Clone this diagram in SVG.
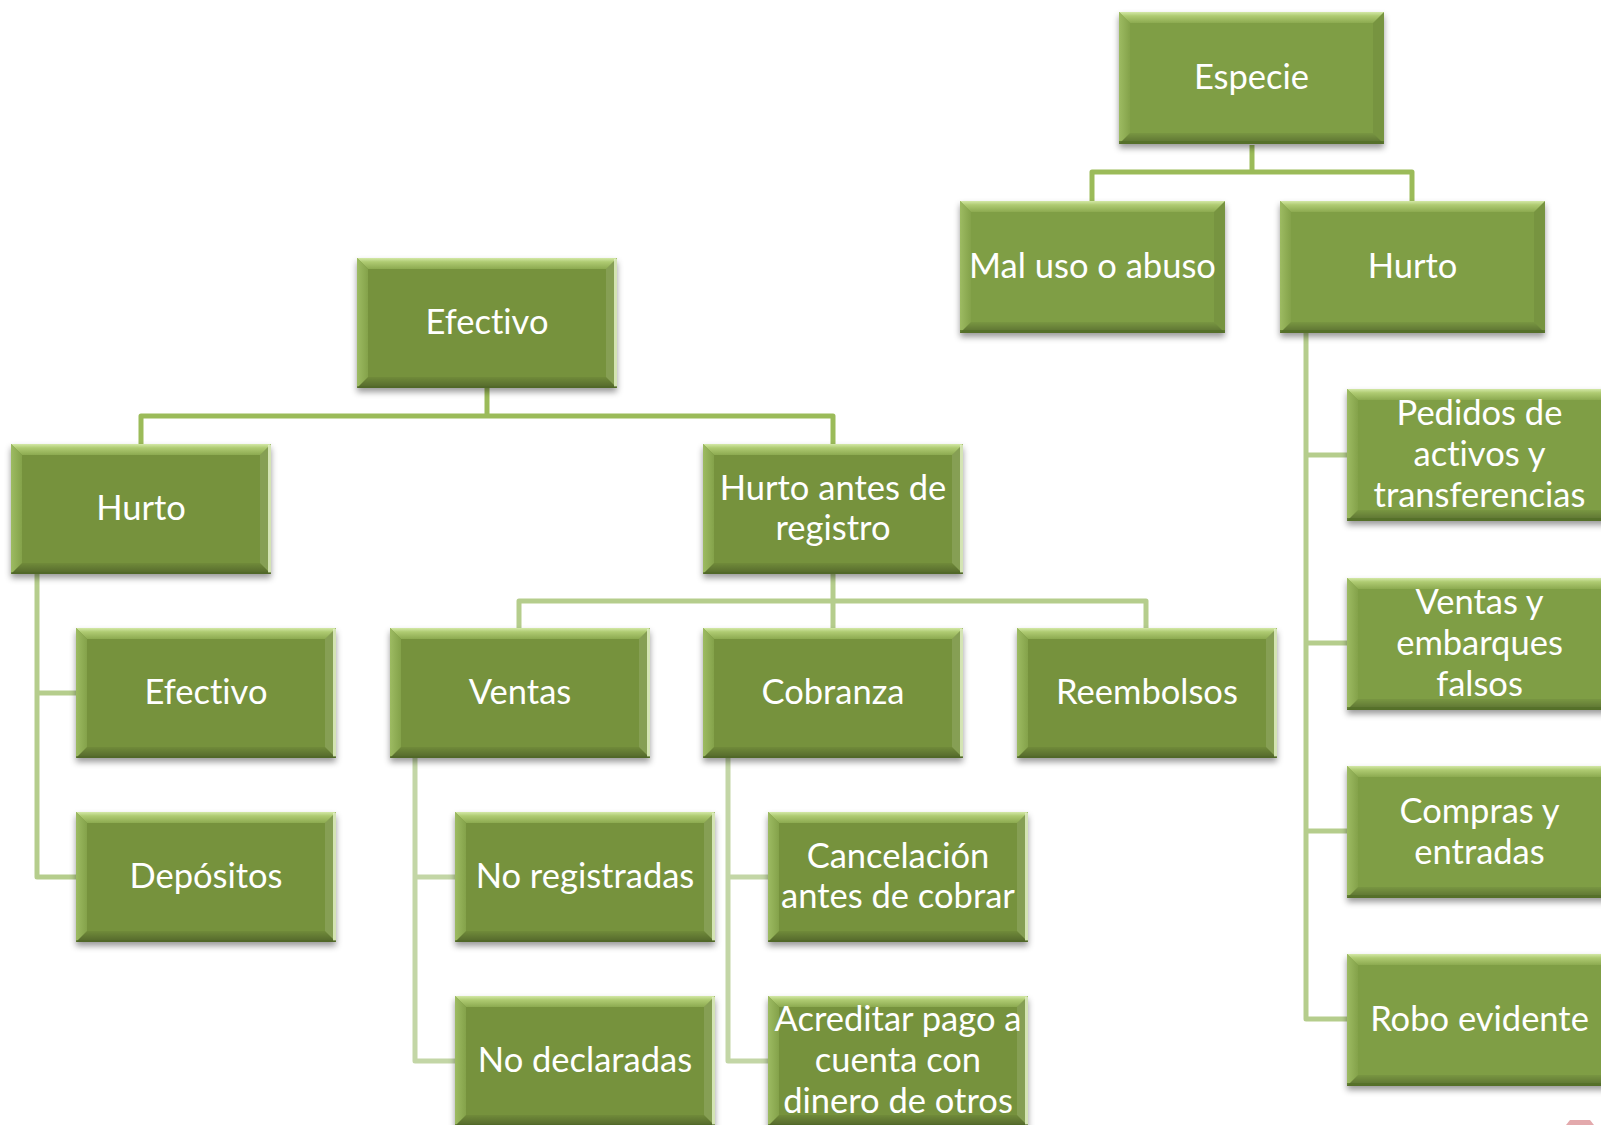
<svg xmlns="http://www.w3.org/2000/svg" xmlns:xlink="http://www.w3.org/1999/xlink" width="1601" height="1125" viewBox="0 0 1601 1125">
  <style>
    .lbl { font-family: Lato, "Open Sans", "Liberation Sans", sans-serif; font-size: 34.5px; fill: #FFFFFF; text-anchor: middle; font-variant-ligatures: none; }
    .c1 { fill: none; stroke: #9BBB59; stroke-width: 5; stroke-linejoin: round; }
    .c2 { fill: none; stroke: #B5CD8C; stroke-width: 5; stroke-linejoin: round; }
    .c3 { fill: none; stroke: #C3D6A6; stroke-width: 5; stroke-linejoin: round; }
  </style>
  <defs>
    <filter id="sh" x="-10%" y="-10%" width="120%" height="130%">
      <feDropShadow dx="0" dy="4" stdDeviation="3" flood-color="#000000" flood-opacity="0.4"/>
    </filter>
    <linearGradient id="gTop" x1="0" y1="0" x2="0" y2="1">
      <stop offset="0" stop-color="#D3E8A6"/>
      <stop offset="0.35" stop-color="#AFCB72"/>
      <stop offset="1" stop-color="#8CAA50"/>
    </linearGradient>
    <linearGradient id="gLeft" x1="0" y1="0" x2="1" y2="0">
      <stop offset="0" stop-color="#9DBB62"/>
      <stop offset="1" stop-color="#84A24A"/>
    </linearGradient>
    <linearGradient id="gBot" x1="0" y1="0" x2="0" y2="1">
      <stop offset="0" stop-color="#000000" stop-opacity="0.05"/>
      <stop offset="1" stop-color="#000000" stop-opacity="0.3"/>
    </linearGradient>

    <!-- bevelled box, 260 x 130 -->
    <g id="boxL">
      <rect width="260" height="130" fill="#76923C" filter="url(#sh)"/>
      <polygon points="0,0 260,0 249,11 11,11" fill="url(#gTop)"/>
      <polygon points="0,0 11,11 11,119 0,130" fill="url(#gLeft)"/>
      <polygon points="260,0 260,130 249,119 249,11" fill="#FFFFFF" fill-opacity="0.12"/>
      <polygon points="0,130 11,119 249,119 260,130" fill="url(#gBot)"/>
      <rect x="257" y="1" width="3" height="128" fill="#E2F0C6" opacity="0.85"/>
      <rect x="0" y="128" width="260" height="2" fill="#4F6726" opacity="0.6"/>
    </g>

    <!-- bevelled box, 265 x 132 -->
    <g id="boxR">
      <rect width="265" height="132" fill="#7F9E45" filter="url(#sh)"/>
      <polygon points="0,0 265,0 254,11 11,11" fill="url(#gTop)"/>
      <polygon points="0,0 11,11 11,121 0,132" fill="url(#gLeft)"/>
      <polygon points="265,0 265,132 254,121 254,11" fill="#000000" fill-opacity="0.06"/>
      <polygon points="0,132 11,121 254,121 265,132" fill="url(#gBot)"/>
      <rect x="0" y="129" width="265" height="3" fill="#546F28" opacity="0.8"/>
    </g>
  </defs>

  <rect width="1601" height="1125" fill="#FFFFFF"/>

  <!-- connectors -->
  <g id="connectors">
    <!-- Efectivo tree -->
    <path class="c1" d="M487,388 V416 M141,444 V416 H833 V444"/>
    <path class="c2" d="M37,574 V877 H76 M37,693 H76"/>
    <path class="c2" d="M833,574 V628 M519,628 V601 H1146 V628"/>
    <path class="c3" d="M415,758 V1061 H455 M415,877 H455"/>
    <path class="c3" d="M728,758 V1061 H768 M728,877 H768"/>
    <!-- Especie tree -->
    <path class="c1" d="M1252,145 V172 M1092,201 V172 H1412 V201"/>
    <path class="c2" d="M1306,333 V1019 H1347 M1306,455 H1347 M1306,643 H1347 M1306,831 H1347"/>
  </g>

  <!-- Efectivo tree nodes -->
  <g id="n-efectivo" transform="translate(357,258)">
    <use xlink:href="#boxL"/>
    <text class="lbl" x="130" y="76">Efectivo</text>
  </g>
  <g id="n-hurto-efectivo" transform="translate(11,444)">
    <use xlink:href="#boxL"/>
    <text class="lbl" x="130" y="76">Hurto</text>
  </g>
  <g id="n-hurto-antes" transform="translate(703,444)">
    <use xlink:href="#boxL"/>
    <text class="lbl" x="130" y="55.6">Hurto antes de</text>
    <text class="lbl" x="130" y="96.4">registro</text>
  </g>
  <g id="n-efectivo-hurto" transform="translate(76,628)">
    <use xlink:href="#boxL"/>
    <text class="lbl" x="130" y="76">Efectivo</text>
  </g>
  <g id="n-depositos" transform="translate(76,812)">
    <use xlink:href="#boxL"/>
    <text class="lbl" x="130" y="76">Depósitos</text>
  </g>
  <g id="n-ventas" transform="translate(390,628)">
    <use xlink:href="#boxL"/>
    <text class="lbl" x="130" y="76">Ventas</text>
  </g>
  <g id="n-cobranza" transform="translate(703,628)">
    <use xlink:href="#boxL"/>
    <text class="lbl" x="130" y="76">Cobranza</text>
  </g>
  <g id="n-reembolsos" transform="translate(1017,628)">
    <use xlink:href="#boxL"/>
    <text class="lbl" x="130" y="76">Reembolsos</text>
  </g>
  <g id="n-no-registradas" transform="translate(455,812)">
    <use xlink:href="#boxL"/>
    <text class="lbl" x="130" y="76">No registradas</text>
  </g>
  <g id="n-no-declaradas" transform="translate(455,996)">
    <use xlink:href="#boxL"/>
    <text class="lbl" x="130" y="76">No declaradas</text>
  </g>
  <g id="n-cancelacion" transform="translate(768,812)">
    <use xlink:href="#boxL"/>
    <text class="lbl" x="130" y="55.6">Cancelación</text>
    <text class="lbl" x="130" y="96.4">antes de cobrar</text>
  </g>
  <g id="n-acreditar" transform="translate(768,996)">
    <use xlink:href="#boxL"/>
    <text class="lbl" x="130" y="35.2">Acreditar pago a</text>
    <text class="lbl" x="130" y="76">cuenta con</text>
    <text class="lbl" x="130" y="116.8">dinero de otros</text>
  </g>

  <!-- Especie tree nodes -->
  <g id="n-especie" transform="translate(1119,12)">
    <use xlink:href="#boxR"/>
    <text class="lbl" x="132.5" y="77">Especie</text>
  </g>
  <g id="n-mal-uso" transform="translate(960,201)">
    <use xlink:href="#boxR"/>
    <text class="lbl" x="132.5" y="77">Mal uso o abuso</text>
  </g>
  <g id="n-hurto-especie" transform="translate(1280,201)">
    <use xlink:href="#boxR"/>
    <text class="lbl" x="132.5" y="77">Hurto</text>
  </g>
  <g id="n-pedidos" transform="translate(1347,389)">
    <use xlink:href="#boxR"/>
    <text class="lbl" x="132.5" y="36">Pedidos de</text>
    <text class="lbl" x="132.5" y="77">activos y</text>
    <text class="lbl" x="132.5" y="118">transferencias</text>
  </g>
  <g id="n-ventas-embarques" transform="translate(1347,578)">
    <use xlink:href="#boxR"/>
    <text class="lbl" x="132.5" y="36">Ventas y</text>
    <text class="lbl" x="132.5" y="77">embarques</text>
    <text class="lbl" x="132.5" y="118">falsos</text>
  </g>
  <g id="n-compras" transform="translate(1347,766)">
    <use xlink:href="#boxR"/>
    <text class="lbl" x="132.5" y="56.5">Compras y</text>
    <text class="lbl" x="132.5" y="97.5">entradas</text>
  </g>
  <g id="n-robo" transform="translate(1347,954)">
    <use xlink:href="#boxR"/>
    <text class="lbl" x="132.5" y="77">Robo evidente</text>
  </g>

  <!-- corner mark -->
  <path d="M1566,1125 L1570,1120 L1590,1120 L1594,1125 Z" fill="#E3A9AC"/>
</svg>
